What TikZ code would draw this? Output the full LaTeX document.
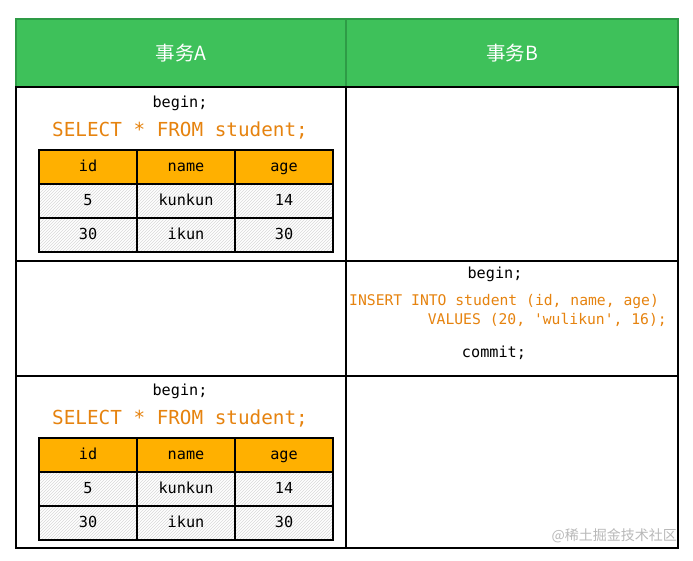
\documentclass[tikz,border=0pt]{standalone}
\usepackage{fontspec}
\setmonofont{DejaVu Sans Mono}
\newfontfamily\cjkfont{Noto Sans CJK SC}
\usetikzlibrary{patterns}

\definecolor{headgreen}{HTML}{3EC15A}
\definecolor{headline}{HTML}{2E9B46}
\definecolor{sqlorange}{HTML}{E6830F}
\definecolor{colorange}{HTML}{FFB000}

\begin{document}
\begin{tikzpicture}[x=1pt,y=-1pt]
	
	\tikzstyle{cell} = [draw,line width=2pt,inner sep=0pt,anchor=north west]
	\tikzstyle{greencell} = [cell,draw=headline,fill=headgreen,text=white,minimum height=68pt,font=\cjkfont\fontsize{19.5}{22}\selectfont]
	\tikzstyle{rowcell} = [cell,fill=white]
	\tikzstyle{colhead} = [cell,fill=colorange,minimum width=98pt,minimum height=34pt,text height=11pt,text depth=3pt,font=\ttfamily\fontsize{15.2}{18}\selectfont]
	\tikzstyle{datacell} = [cell,pattern=north east lines,pattern color=gray!30,minimum width=98pt,minimum height=34pt,text height=11pt,text depth=3pt,font=\ttfamily\fontsize{15.2}{18}\selectfont]
	\tikzstyle{plain} = [inner sep=0pt,font=\ttfamily\fontsize{15.2}{18}\selectfont]
	\tikzstyle{sql} = [inner sep=0pt,text=sqlorange,font=\ttfamily\fontsize{19.3}{22}\selectfont]
	\tikzstyle{sqlsmall} = [inner sep=0pt,text=sqlorange,font=\ttfamily\fontsize{14.7}{17}\selectfont]
	
	\useasboundingbox (0,0) rectangle (693,560);
	
	% headers
	\node[greencell,minimum width=330pt] (headA) at (15,18) {事务A};
	\node[greencell,minimum width=332pt] (headB) at (345,18) {事务B};
	
	% rows
	\node[rowcell,minimum width=330pt,minimum height=174pt] (a1) at (15,86) {};
	\node[rowcell,minimum width=332pt,minimum height=174pt] (b1) at (345,86) {};
	\node[rowcell,minimum width=330pt,minimum height=115pt] (a2) at (15,260) {};
	\node[rowcell,minimum width=332pt,minimum height=115pt] (b2) at (345,260) {};
	\node[rowcell,minimum width=330pt,minimum height=172pt] (a3) at (15,375) {};
	\node[rowcell,minimum width=332pt,minimum height=172pt] (b3) at (345,375) {};
	
	% transaction A, first read
	\node[plain] (begin1) at (180,103) {begin;};
	\node[sql] (select1) at (180,131) {SELECT * FROM student;};
	
	\node[colhead] (t1id) at (38,149) {id};
	\node[colhead] (t1name) at (136,149) {name};
	\node[colhead] (t1age) at (234,149) {age};
	\node[datacell] (t1id1) at (38,183) {5};
	\node[datacell] (t1name1) at (136,183) {kunkun};
	\node[datacell] (t1age1) at (234,183) {14};
	\node[datacell] (t1id2) at (38,217) {30};
	\node[datacell] (t1name2) at (136,217) {ikun};
	\node[datacell] (t1age2) at (234,217) {30};
	
	% transaction B, insert
	\node[plain] (begin2) at (495,274) {begin;};
	\node[sqlsmall,anchor=west] (insert) at (349,301) {INSERT INTO student (id, name, age)};
	\node[sqlsmall,anchor=east] (values) at (667,320) {VALUES (20, 'wulikun', 16);};
	\node[plain] (commit) at (494,353) {commit;};
	
	% transaction A, second read
	\node[plain] (begin3) at (180,391) {begin;};
	\node[sql] (select3) at (180,419) {SELECT * FROM student;};
	
	\node[colhead] (t2id) at (38,437) {id};
	\node[colhead] (t2name) at (136,437) {name};
	\node[colhead] (t2age) at (234,437) {age};
	\node[datacell] (t2id1) at (38,471) {5};
	\node[datacell] (t2name1) at (136,471) {kunkun};
	\node[datacell] (t2age1) at (234,471) {14};
	\node[datacell] (t2id2) at (38,505) {30};
	\node[datacell] (t2name2) at (136,505) {ikun};
	\node[datacell] (t2age2) at (234,505) {30};
	
	\node[anchor=east,inner sep=0pt,text=gray!55,font=\cjkfont\fontsize{14}{16}\selectfont] (mark) at (677,536) {@稀土掘金技术社区};

\end{tikzpicture}
\end{document}
